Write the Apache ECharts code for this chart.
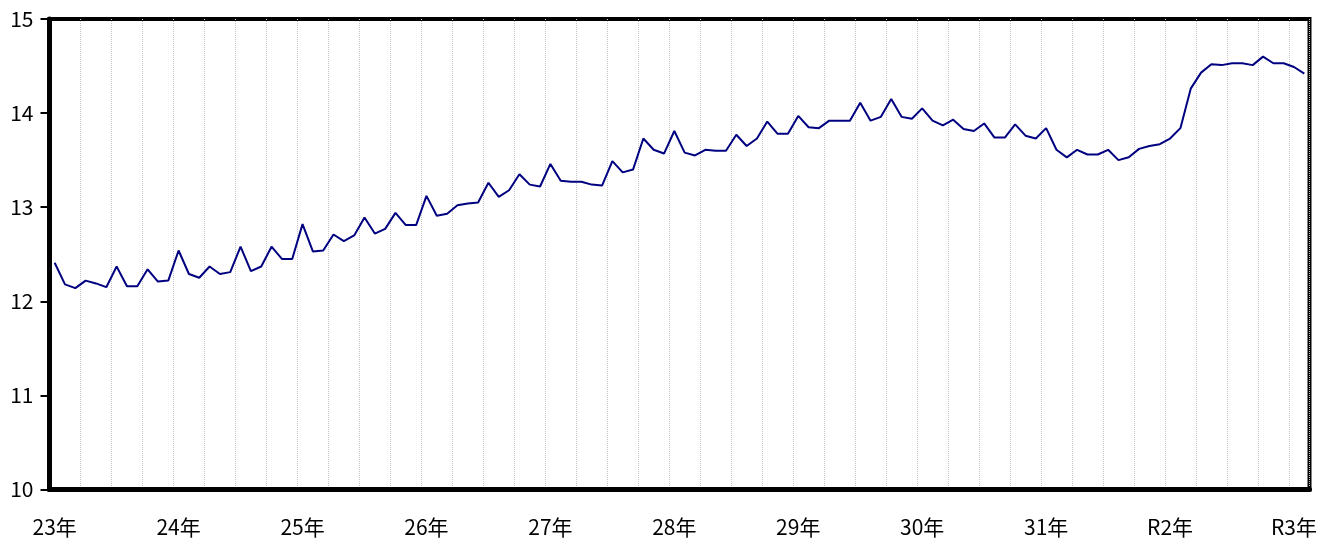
<!DOCTYPE html>
<html>
<head>
<meta charset="utf-8">
<script src="https://cdn.jsdelivr.net/npm/echarts@6/dist/echarts.min.js"></script>
<style>
  html, body { margin: 0; padding: 0; background: #fff; }
  #chart { width: 1320px; height: 538px; }
</style>
</head>
<body>
<div id="chart"></div>
<script>
// 年ラベル（1月の位置に表示）
const yearLabels = ['23年', '24年', '25年', '26年', '27年', '28年', '29年', '30年', '31年', 'R2年', 'R3年'];

// 月次の値（23年1月～R3年2月）
const values = [
  12.41, 12.18, 12.14, 12.22, 12.19, 12.15, 12.37, 12.16, 12.16, 12.34, 12.21, 12.22,
  12.54, 12.29, 12.25, 12.37, 12.29, 12.31, 12.58, 12.32, 12.37, 12.58, 12.45, 12.45,
  12.82, 12.53, 12.54, 12.71, 12.64, 12.70, 12.89, 12.72, 12.77, 12.94, 12.81, 12.81,
  13.12, 12.91, 12.93, 13.02, 13.04, 13.05, 13.26, 13.11, 13.18, 13.35, 13.24, 13.22,
  13.46, 13.28, 13.27, 13.27, 13.24, 13.23, 13.49, 13.37, 13.40, 13.73, 13.61, 13.57,
  13.81, 13.58, 13.55, 13.61, 13.60, 13.60, 13.77, 13.65, 13.73, 13.91, 13.78, 13.78,
  13.97, 13.85, 13.84, 13.92, 13.92, 13.92, 14.11, 13.92, 13.96, 14.15, 13.96, 13.94,
  14.05, 13.92, 13.87, 13.93, 13.83, 13.81, 13.89, 13.74, 13.74, 13.88, 13.76, 13.73,
  13.84, 13.61, 13.53, 13.61, 13.56, 13.56, 13.61, 13.50, 13.53, 13.62, 13.65, 13.67,
  13.73, 13.84, 14.26, 14.43, 14.52, 14.51, 14.53, 14.53, 14.51, 14.60, 14.53, 14.53,
  14.49, 14.42
];

// カテゴリ（年＋月）
const categories = [];
for (let i = 0; i < values.length; i++) {
  categories.push(yearLabels[Math.floor(i / 12)] + (i % 12 + 1) + '月');
}

const chart = echarts.init(document.getElementById('chart'));
const fontFamily = '"Noto Sans CJK JP", "Noto Sans", sans-serif';

const option = {
  animation: false,
  grid: {
    left: 49.5,
    right: 10.5,
    top: 19,
    bottom: 48.5,
    show: true,
    borderColor: '#000',
    borderWidth: 4,
    backgroundColor: 'transparent'
  },
  xAxis: {
    type: 'category',
    data: categories,
    boundaryGap: true,
    axisLine: { lineStyle: { color: '#000', width: 5 } },
    axisTick: { interval: 2, length: 8, lineStyle: { color: '#000', width: 1.5 } },
    axisLabel: {
      interval: 11,
      margin: 27,
      color: '#000',
      fontSize: 21,
      fontFamily: fontFamily,
      formatter: function (v) { return v.replace(/\d+月$/, ''); }
    },
    splitLine: {
      show: true,
      interval: 2,
      lineStyle: { color: '#c4c4c4', type: 'dotted', width: 1 }
    }
  },
  yAxis: {
    type: 'value',
    min: 10,
    max: 15,
    interval: 1,
    axisLine: { show: true, lineStyle: { color: '#000', width: 5 } },
    axisTick: { show: true, length: 9, lineStyle: { color: '#000', width: 2 } },
    axisLabel: { margin: 16, color: '#000', fontSize: 21, fontFamily: fontFamily },
    splitLine: { show: false }
  },
  series: [{
    type: 'line',
    data: values,
    symbol: 'none',
    lineStyle: { color: '#000080', width: 2 }
  }]
};

chart.setOption(option);
window.addEventListener('resize', function () { chart.resize(); });
</script>
</body>
</html>
